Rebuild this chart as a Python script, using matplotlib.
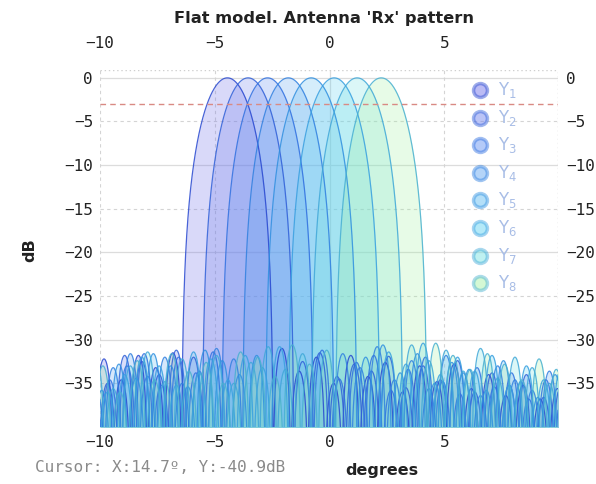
import numpy as np
import matplotlib
matplotlib.use("Agg")
import matplotlib.pyplot as plt

# Beam pointing angles (deg) and main-lobe null half-width (deg)
beam_centers = [-4.45, -3.55, -2.70, -1.80, -0.80, 0.20, 1.20, 2.25]
null_halfwidth = 2.0
sidelobe_width = 0.75
beam_labels = [f"Y$_{{{i}}}$" for i in range(1, 9)]

# Sidelobe peak levels (dB), listed outward from each main-lobe null
left_lobes = [
    [-31.5, -33.2, -31.8, -34.6, -32.2],
    [-32.0, -31.2, -34.0, -32.5, -31.8, -35.0],
    [-31.4, -33.8, -32.0, -35.2, -31.6, -33.0, -34.6, -32.4],
    [-32.2, -31.0, -33.6, -35.0, -32.0, -34.2, -31.6, -33.2, -35.6],
    [-31.8, -34.0, -32.4, -31.2, -35.4, -33.0, -31.6, -34.4, -32.8, -35.8],
    [-30.8, -33.2, -31.8, -34.6, -32.2, -31.4, -35.2, -33.0, -32.0, -34.0, -36.0],
    [-31.6, -33.4, -30.8, -32.6, -35.0, -31.8, -33.8, -32.2, -34.8, -31.4, -33.0, -35.6, -32.4],
    [-31.2, -32.8, -30.6, -34.2, -32.0, -31.4, -35.0, -32.6, -33.6, -31.6, -34.6, -32.4, -36.0, -33.0],
]
right_lobes = [
    [-31.0, -33.6, -32.0, -35.0, -31.8, -34.2, -32.6, -36.0, -33.0, -34.8, -32.8, -35.6, -34.0, -36.4, -35.2, -36.8, -35.6],
    [-32.5, -31.5, -34.2, -32.8, -33.6, -31.9, -35.5, -33.0, -34.6, -32.4, -36.0, -33.8, -35.2, -34.0, -36.6, -35.4],
    [-31.2, -34.5, -32.6, -31.8, -35.8, -33.4, -32.0, -34.8, -36.2, -33.2, -35.4, -33.8, -36.8, -34.6, -35.8],
    [-31.6, -33.2, -30.8, -34.6, -32.4, -35.6, -31.8, -33.8, -36.4, -33.0, -34.6, -35.8, -33.6, -36.0],
    [-32.0, -30.6, -33.8, -31.6, -35.0, -32.6, -33.4, -35.8, -32.4, -34.8, -36.6, -34.0],
    [-31.4, -32.8, -30.4, -34.0, -32.0, -33.6, -31.8, -35.2, -33.0, -34.6, -33.4],
    [-30.6, -32.4, -31.2, -33.6, -31.0, -34.4, -32.0, -33.2, -35.0, -33.6],
    [-30.4, -31.8, -33.4, -31.6, -32.8, -34.6, -32.2, -33.4],
]

fill_colors = ["#6a6ae8", "#6a7cec", "#5a8af0", "#5aa0f0",
               "#5ab8f0", "#5ad0f0", "#70e0e0", "#a0f0a0"]
edge_colors = ["#2848d0", "#3060d8", "#3070e0", "#3080e0",
               "#3090e0", "#38a0e0", "#40a8d8", "#48b0d0"]

X_MIN, X_MAX = -10.0, 9.95
Y_MIN, Y_MAX = -40.0, 0.9


def lobe(t):
    # power-pattern lobe shape in dB over one lobe interval t in [0, 1)
    return 10 * np.log10(np.maximum(np.abs(np.sin(np.pi * t)), 1e-10))


def beam_pattern(x, c, left, right):
    y = np.full_like(x, -200.0)
    u = (x - c) / null_halfwidth
    main = np.abs(u) < 1
    y[main] = 20 * np.log10(np.maximum(np.abs(np.sinc(u[main])), 1e-10))
    for k, lev in enumerate(right):
        a = c + null_halfwidth + k * sidelobe_width
        m = (x >= a) & (x < a + sidelobe_width)
        y[m] = lev + lobe((x[m] - a) / sidelobe_width)
    for k, lev in enumerate(left):
        b = c - null_halfwidth - k * sidelobe_width
        m = (x <= b) & (x > b - sidelobe_width)
        y[m] = lev + lobe((b - x[m]) / sidelobe_width)
    return np.maximum(y, Y_MIN - 1)


fig = plt.figure(figsize=(5.96, 4.84), dpi=100)
ax = fig.add_axes([100 / 596, 57 / 484, 458 / 596, 357 / 484])
ax.set_xlim(X_MIN, X_MAX)
ax.set_ylim(Y_MIN, Y_MAX)

mono = "DejaVu Sans Mono"
ink = "#222222"

# grid: solid on tens, dashed on fives
for yv in [0, -10, -20, -30]:
    ax.axhline(yv, color="#dcdcdc", lw=0.9, zorder=0)
for yv in [-5, -15, -25, -35]:
    ax.axhline(yv, color="#d4d4d4", lw=0.8, ls=(0, (3, 3)), zorder=0)
ax.axvline(0, color="#dcdcdc", lw=0.9, zorder=0)
for xv in [-10, -5, 5]:
    ax.axvline(xv, color="#d4d4d4", lw=0.8, ls=(0, (3, 3)), zorder=0)
ax.axhline(Y_MAX, color="#cfcfcf", lw=1.0, ls=(0, (1, 2)), zorder=0)
ax.axvline(X_MAX, color="#cfcfcf", lw=1.0, ls=(0, (1, 2)), zorder=0)

x = np.linspace(-10, 10, 6001)
for i, c in enumerate(beam_centers):
    y = beam_pattern(x, c, left_lobes[i], right_lobes[i])
    ax.fill_between(x, y, Y_MIN - 1, color=fill_colors[i], alpha=0.25, lw=0, zorder=2)
    ax.plot(x, y, color=edge_colors[i], lw=0.9, alpha=0.85, zorder=3)

# -3 dB level
ax.axhline(-3, color="#d98a84", lw=1.0, ls=(0, (4, 3)), zorder=4)

# legend
for i, lab in enumerate(beam_labels):
    yp = 90 + 27.6 * i
    ya = (427 - yp) / 357
    ax.plot([(480 - 100) / 458], [ya], transform=ax.transAxes, marker="o",
            ms=10, mfc=fill_colors[i], mec=edge_colors[i], mew=2.5,
            alpha=0.45, clip_on=False, zorder=6, ls="none")
    ax.text((498 - 100) / 458, ya, lab, transform=ax.transAxes, fontsize=12,
            color="#a8bde6", va="center", ha="left", zorder=6)

for s in ax.spines.values():
    s.set_visible(False)

xticks = [-10, -5, 0, 5]
yticks = [0, -5, -10, -15, -20, -25, -30, -35]
ax.set_xticks(xticks)
ax.set_yticks(yticks)
ax.tick_params(axis="both", length=0, labelsize=11.5, labelcolor=ink)
ax.tick_params(axis="x", pad=6)
ax.tick_params(axis="y", pad=5)
for lab in ax.get_xticklabels() + ax.get_yticklabels():
    lab.set_family(mono)

top = ax.secondary_xaxis("top")
top.set_xticks(xticks)
top.tick_params(length=0, labelsize=11.5, labelcolor=ink, pad=14)
right = ax.secondary_yaxis("right")
right.set_yticks(yticks)
right.tick_params(length=0, labelsize=11.5, labelcolor=ink, pad=6)
for sec in (top, right):
    for s in sec.spines.values():
        s.set_visible(False)
for lab in top.get_xticklabels() + right.get_yticklabels():
    lab.set_family(mono)

fig.text(324 / 596, 1 - 19 / 484, "Flat model. Antenna 'Rx' pattern", fontsize=11.7,
         fontweight="bold", color=ink, ha="center", va="center")
fig.text(30 / 596, 1 - 250 / 484, "dB", fontsize=11.5, fontweight="bold",
         color=ink, ha="center", va="center", rotation=90)
fig.text(382 / 596, 1 - 470 / 484, "degrees", fontsize=11.5, fontweight="bold",
         color=ink, ha="center", va="center")
fig.text(35 / 596, 1 - 468 / 484, "Cursor: X:14.7º, Y:-40.9dB", family=mono,
         fontsize=11.5, color="#8a8a8a", ha="left", va="center")

fig.savefig("out.png", dpi=100)
